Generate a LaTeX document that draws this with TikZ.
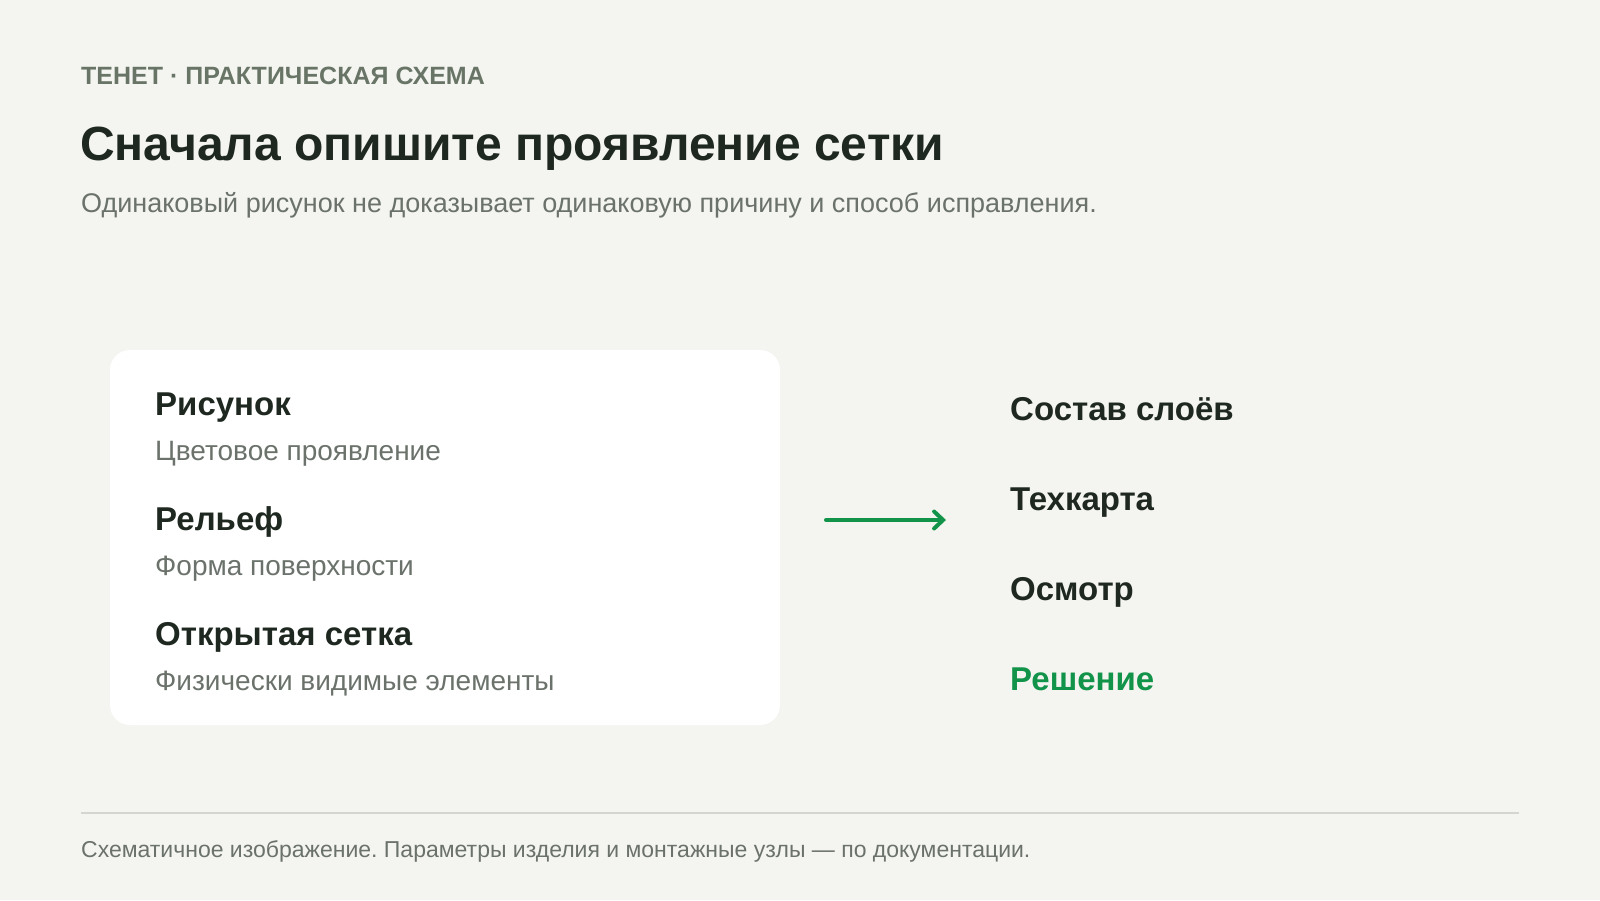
\documentclass[tikz,border=0pt]{standalone}
\usepackage{fontspec}
\setmainfont{Liberation Sans}
\frenchspacing
\usetikzlibrary{arrows.meta}
\definecolor{pagebg}{HTML}{F4F5F0}
\definecolor{inkdark}{HTML}{1E2820}
\definecolor{inkgray}{HTML}{6B726B}
\definecolor{kickgray}{HTML}{687466}
\definecolor{leafgreen}{HTML}{12934A}
\definecolor{rulegray}{HTML}{D3D6CF}
\begin{document}
\begin{tikzpicture}[x=1pt,y=-1pt,
  txt/.style={anchor=base west,inner sep=0pt},
  kicker/.style={txt,text=kickgray,font=\fontsize{25}{30}\selectfont\bfseries},
  headline/.style={txt,text=inkdark,font=\fontsize{48}{56}\selectfont\bfseries},
  lead/.style={txt,text=inkgray,font=\fontsize{27}{32}\selectfont},
  itemhead/.style={txt,text=inkdark,font=\fontsize{33}{39}\selectfont\bfseries},
  itemnote/.style={txt,text=inkgray,font=\fontsize{28}{33}\selectfont},
  stage/.style={txt,text=inkdark,font=\fontsize{33}{39}\selectfont\bfseries},
  footnote/.style={txt,text=inkgray,font=\fontsize{23}{27}\selectfont}]
\fill[pagebg] (0,0) rectangle (1600,900);
\useasboundingbox (0,0) rectangle (1600,900);
\node[kicker] (kicker) at (81,84) {ТЕНЕТ · ПРАКТИЧЕСКАЯ СХЕМА};
\node[headline] (title) at (80,160) {Сначала опишите проявление сетки};
\node[lead] (lead) at (81,212) {Одинаковый рисунок не доказывает одинаковую причину и способ исправления.};
\fill[white,rounded corners=20pt] (110,350) rectangle (780,725);
\node[itemhead] (pattern) at (155,415) {Рисунок};
\node[itemnote] (patternnote) at (155,460) {Цветовое проявление};
\node[itemhead] (relief) at (155,530) {Рельеф};
\node[itemnote] (reliefnote) at (155,575) {Форма поверхности};
\node[itemhead] (openmesh) at (155,645) {Открытая сетка};
\node[itemnote] (openmeshnote) at (155,690) {Физически видимые элементы};
\coordinate (arrowfrom) at (826,520);
\coordinate (arrowto) at (946,520);
\draw[leafgreen,line width=4pt,line cap=round,-{Straight Barb[length=9pt,width=17pt,line cap=round]}] (arrowfrom) -- (arrowto);
\node[stage] (layers) at (1010,420) {Состав слоёв};
\node[stage] (techcard) at (1010,510) {Техкарта};
\node[stage] (survey) at (1010,600) {Осмотр};
\node[stage,text=leafgreen] (solution) at (1010,690) {Решение};
\draw[rulegray,line width=2pt] (81,813) -- (1519,813);
\node[footnote] (foot) at (81,857) {Схематичное изображение. Параметры изделия и монтажные узлы — по документации.};
\end{tikzpicture}
\end{document}
